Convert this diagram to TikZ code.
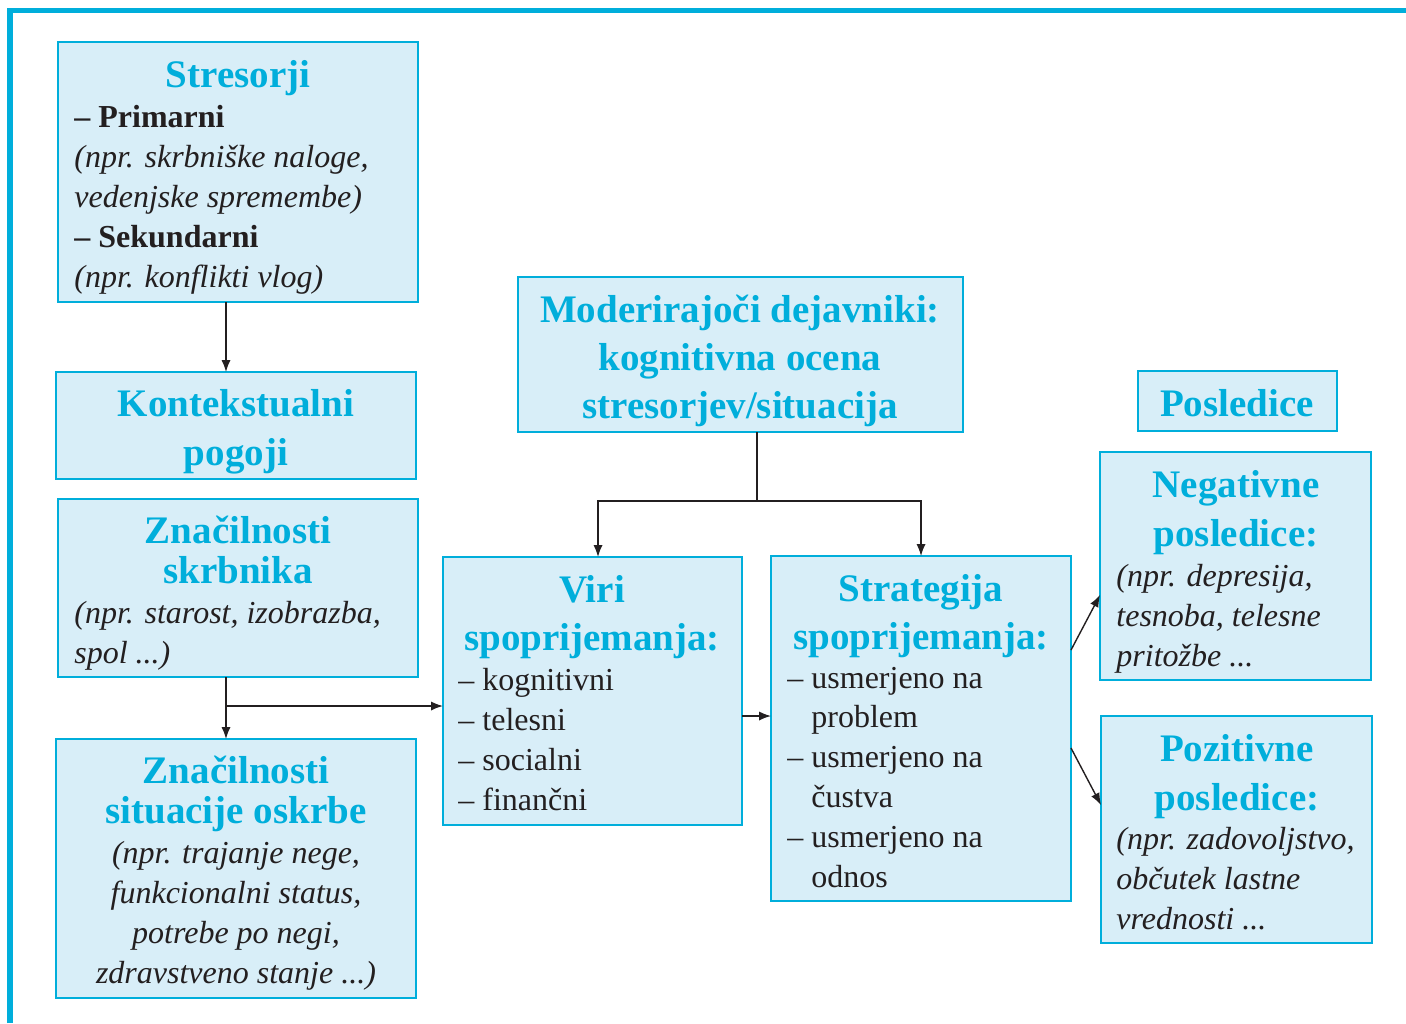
\documentclass[tikz,border=0pt]{standalone}
\usepackage{fontspec}
\setmainfont{Liberation Serif}
\usetikzlibrary{arrows.meta,fit}
\definecolor{cy}{RGB}{0,174,219}
\definecolor{fillc}{RGB}{216,238,248}
\definecolor{txt}{RGB}{35,31,32}
\begin{document}
\begin{tikzpicture}[x=0.5pt,y=-0.5pt,
  box/.style={draw=cy, fill=fillc, line width=1.25pt, inner sep=0pt, outer sep=0pt},
  ttl/.style={font=\fontsize{19.5}{24}\selectfont\bfseries, text=cy, anchor=base, inner sep=0pt},
  bdy/.style={font=\fontsize{16}{20}\selectfont, text=txt, anchor=base west, inner sep=0pt},
  bdyc/.style={font=\fontsize{16}{20}\selectfont\itshape, text=txt, anchor=base, inner sep=0pt},
  arr/.style={draw=txt, line width=0.7pt, -{Latex[length=6pt,width=4.6pt]}},
  ln/.style={draw=txt, line width=0.7pt}]
\useasboundingbox (0,0) rectangle (1406,1023);
% frame
\draw[cy, line width=2.6pt] (10,1023) -- (10,10.5) -- (1406,10.5);

% boxes
\node[box, fit={(58,42) (418,302)}] (stres) {};
\node[box, fit={(56,372) (416,479)}] (kont) {};
\node[box, fit={(58,499) (418,677)}] (skrb) {};
\node[box, fit={(56,739) (416,998)}] (sit) {};
\node[box, fit={(518,277) (963,432)}] (mod) {};
\node[box, fit={(443,557) (742,825)}] (viri) {};
\node[box, fit={(771,556) (1071,901)}] (strat) {};
\node[box, fit={(1138,371) (1337,431)}] (posl) {};
\node[box, fit={(1100,452) (1371,680)}] (neg) {};
\node[box, fit={(1101,716) (1372,943)}] (poz) {};

% Stresorji
\node[ttl] (t1) at (238,87) {Stresorji};
\node[bdy] (s1) at (74,127) {\bfseries – Primarni};
\node[bdy] (s2) at (74,167) {\itshape (npr. skrbniške naloge,};
\node[bdy] (s3) at (74,207) {\itshape vedenjske spremembe)};
\node[bdy] (s4) at (74,247) {\bfseries – Sekundarni};
\node[bdy] (s5) at (74,287) {\itshape (npr. konflikti vlog)};

% Kontekstualni pogoji
\node[ttl] (t2a) at (236,416) {Kontekstualni};
\node[ttl] (t2b) at (236,465) {pogoji};

% Značilnosti skrbnika
\node[ttl] (t3a) at (238,543) {Značilnosti};
\node[ttl] (t3b) at (238,583) {skrbnika};
\node[bdy] (k1) at (74,623) {\itshape (npr. starost, izobrazba,};
\node[bdy] (k2) at (74,663) {\itshape spol ...)};

% Značilnosti situacije oskrbe
\node[ttl] (t4a) at (236,783) {Značilnosti};
\node[ttl] (t4b) at (236,823) {situacije oskrbe};
\node[bdyc] (o1) at (236,863) {(npr. trajanje nege,};
\node[bdyc] (o2) at (236,903) {funkcionalni status,};
\node[bdyc] (o3) at (236,943) {potrebe po negi,};
\node[bdyc] (o4) at (236,983) {zdravstveno stanje ...)};

% Moderirajoči dejavniki
\node[ttl] (t5a) at (740,322) {Moderirajoči dejavniki:};
\node[ttl] (t5b) at (740,370) {kognitivna ocena};
\node[ttl] (t5c) at (740,418) {stresorjev/situacija};

% Viri spoprijemanja
\node[ttl] (t6a) at (592,602) {Viri};
\node[ttl] (t6b) at (592,650) {spoprijemanja:};
\node[bdy] (v1) at (458,690) {– kognitivni};
\node[bdy] (v2) at (458,730) {– telesni};
\node[bdy] (v3) at (458,770) {– socialni};
\node[bdy] (v4) at (458,810) {– finančni};

% Strategija spoprijemanja
\node[ttl] (t7a) at (921,601) {Strategija};
\node[ttl] (t7b) at (921,649) {spoprijemanja:};
\node[bdy] (g1) at (787,688) {– usmerjeno na};
\node[bdy] (g2) at (787,727) {\phantom{– }problem};
\node[bdy] (g3) at (787,767) {– usmerjeno na};
\node[bdy] (g4) at (787,807) {\phantom{– }čustva};
\node[bdy] (g5) at (787,847) {– usmerjeno na};
\node[bdy] (g6) at (787,887) {\phantom{– }odnos};

% Posledice
\node[ttl] (t8) at (1237,416) {Posledice};

% Negativne posledice
\node[ttl] (t9a) at (1236,497) {Negativne};
\node[ttl] (t9b) at (1236,546) {posledice:};
\node[bdy] (n1) at (1116,586) {\itshape (npr. depresija,};
\node[bdy] (n2) at (1116,626) {\itshape tesnoba, telesne};
\node[bdy] (n3) at (1116,666) {\itshape pritožbe ...};

% Pozitivne posledice
\node[ttl] (t10a) at (1237,761) {Pozitivne};
\node[ttl] (t10b) at (1237,810) {posledice:};
\node[bdy] (p1) at (1116,849) {\itshape (npr. zadovoljstvo,};
\node[bdy] (p2) at (1116,889) {\itshape občutek lastne};
\node[bdy] (p3) at (1116,929) {\itshape vrednosti ...};

% connectors
\coordinate (xL) at (226,0);
\draw[arr] (stres.south -| xL) -- (kont.north -| xL);
\draw[arr] (skrb.south -| xL) -- (sit.north -| xL);
\coordinate (br) at (226,706);
\draw[arr] (br) -- (br -| viri.west);

\coordinate (jm) at (757,501);
\coordinate (xV) at (598,0);
\coordinate (xS) at (921,0);
\draw[ln] (mod.south -| jm) -- (jm);
\draw[arr] (jm) -| (viri.north -| xV);
\draw[arr] (jm) -| (strat.north -| xS);

\coordinate (yvs) at (0,716);
\draw[arr] (viri.east |- yvs) -- (strat.west |- yvs);

\coordinate (ya) at (0,650);
\coordinate (yb) at (0,595);
\coordinate (yc) at (0,748);
\coordinate (yd) at (0,805);
\draw[arr] (strat.east |- ya) -- (neg.west |- yb);
\draw[arr] (strat.east |- yc) -- (poz.west |- yd);
\end{tikzpicture}
\end{document}
